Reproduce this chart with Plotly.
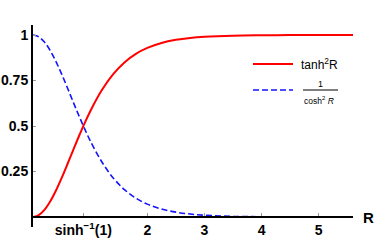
import plotly.graph_objects as go

# Values
r_values = [0, 0.1, 0.2, 0.3, 0.4, 0.5, 0.6, 0.7, 0.8, 0.9, 1.0, 1.2, 1.4, 1.6, 1.8,
            2.0, 2.25, 2.5, 2.75, 3.0, 3.5, 4.0, 4.5, 5.0, 5.6]
tanh2_values = [0, 0.00993, 0.03896, 0.08486, 0.14436, 0.21355, 0.28842, 0.36526,
                0.44095, 0.51309, 0.58002, 0.69497, 0.78385, 0.84947, 0.89645,
                0.92935, 0.95654, 0.97340, 0.98379, 0.99013, 0.99636, 0.99866,
                0.99951, 0.99982, 0.99995]
sech2_values = [1, 0.99007, 0.96104, 0.91514, 0.85564, 0.78645, 0.71158, 0.63474,
                0.55905, 0.48691, 0.41998, 0.30503, 0.21615, 0.15053, 0.10355,
                0.07065, 0.04346, 0.02660, 0.01621, 0.00987, 0.00364, 0.00134,
                0.00049, 0.00018, 0.00005]
x_tick_vals = [0.8814, 2, 3, 4, 5]
x_tick_text = ["sinh<sup>−1</sup>(1)", "2", "3", "4", "5"]
y_tick_vals = [0.25, 0.5, 0.75, 1]
y_tick_text = ["0.25", "0.5", "0.75", "1"]

W, H = 374, 242
ML, MR, MT, MB = 33, 21, 25, 15
YR = [-0.055, 1.055]


def px(x, y):
    return (x - ML) / (W - ML - MR), (H - MB - y) / (H - MT - MB)


FONT = "Liberation Sans, Arial, sans-serif"

fig = go.Figure()
fig.add_trace(go.Scatter(x=r_values, y=sech2_values, mode="lines",
                         line=dict(color="#1414ff", width=1.6, dash="6px,3px", shape="spline"),
                         showlegend=False, hoverinfo="skip"))
fig.add_trace(go.Scatter(x=r_values, y=tanh2_values, mode="lines",
                         line=dict(color="#ff0000", width=2, shape="spline"),
                         showlegend=False, hoverinfo="skip"))

shapes = []
annotations = []
# legend entries
x0, y0 = px(253, 64)
x1, _ = px(293, 64)
shapes.append(dict(type="line", xref="paper", yref="paper", x0=x0, x1=x1, y0=y0, y1=y0,
                   line=dict(color="#ff0000", width=2)))
annotations.append(dict(xref="paper", yref="paper", x=px(299, 64)[0], y=y0,
                        text="tanh<sup>2</sup>R", showarrow=False, xanchor="left",
                        yanchor="middle", font=dict(family=FONT, size=12, color="black")))
x0, y0 = px(253, 90)
x1, _ = px(293, 90)
shapes.append(dict(type="line", xref="paper", yref="paper", x0=x0, x1=x1, y0=y0, y1=y0,
                   line=dict(color="#1414ff", width=1.6, dash="6px,3px")))
fx0, fy = px(303, 90)
fx1, _ = px(338, 90)
shapes.append(dict(type="line", xref="paper", yref="paper", x0=fx0, x1=fx1, y0=fy, y1=fy,
                   line=dict(color="black", width=1)))
annotations.append(dict(xref="paper", yref="paper", x=px(320, 84)[0], y=px(320, 84)[1],
                        text="1", showarrow=False, xanchor="center", yanchor="middle",
                        font=dict(family=FONT, size=9, color="black")))
annotations.append(dict(xref="paper", yref="paper", x=px(319, 100)[0], y=px(319, 100)[1],
                        text="cosh<sup>2</sup> <i>R</i>", showarrow=False, xanchor="center",
                        yanchor="middle", font=dict(family=FONT, size=8.5, color="black")))
# axis label R
annotations.append(dict(xref="paper", yref="paper", x=px(361, 217)[0], y=px(361, 217)[1],
                        text="<b>R</b>", showarrow=False, xanchor="left", yanchor="middle",
                        font=dict(family=FONT, size=15, color="black")))

fig.update_layout(
    width=W, height=H,
    margin=dict(l=ML, r=MR, t=MT, b=MB),
    paper_bgcolor="white", plot_bgcolor="white",
    shapes=shapes, annotations=annotations,
    font=dict(family=FONT, color="black"),
    xaxis=dict(range=[0, 5.6], tickvals=x_tick_vals, ticktext=x_tick_text,
               showgrid=False, zeroline=False, showline=True, linecolor="black",
               linewidth=2, ticks="inside", ticklen=3, tickcolor="#999999",
               anchor="free", position=0.055 / 1.11, automargin=False,
               tickfont=dict(family=FONT, size=14, color="black", weight="bold")),
    yaxis=dict(range=YR, tickvals=y_tick_vals, ticktext=y_tick_text,
               showgrid=False, zeroline=False, showline=True, linecolor="black",
               linewidth=2, ticks="inside", ticklen=3, tickcolor="#999999",
               automargin=False,
               tickfont=dict(family=FONT, size=14, color="black", weight="bold")),
)

fig.write_html("out.html", config={"displayModeBar": False},
               post_script="document.body.style.margin='0';document.body.style.overflow='hidden';")
